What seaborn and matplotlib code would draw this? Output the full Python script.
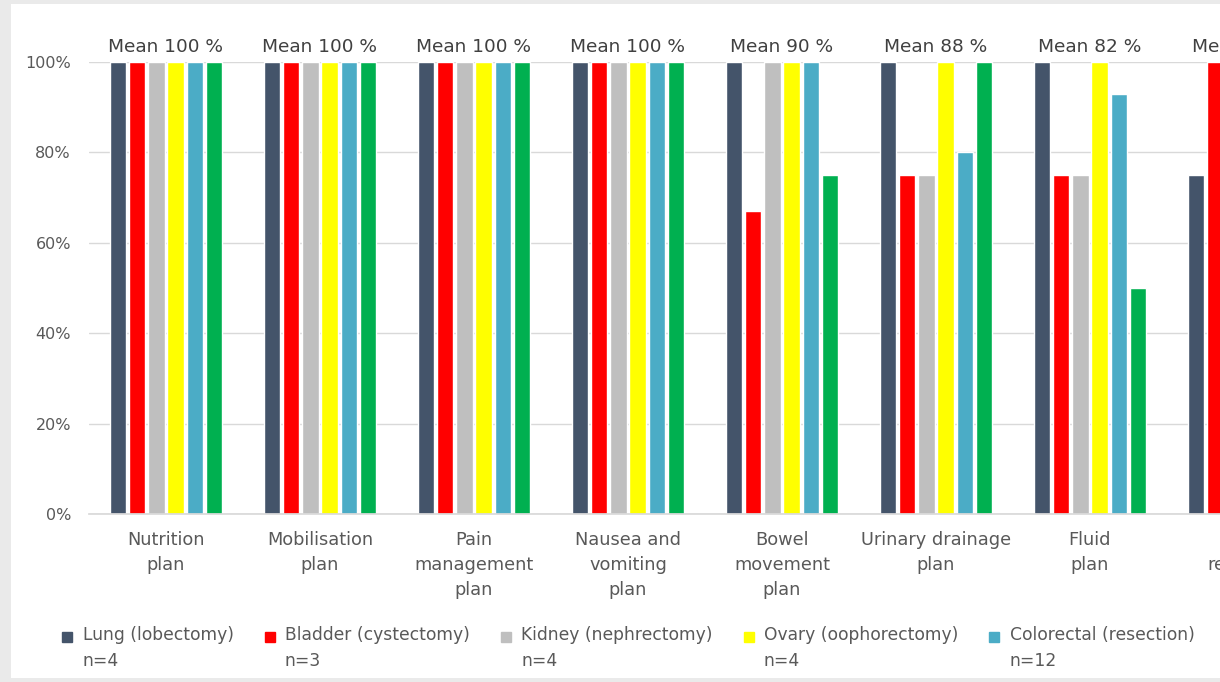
import pandas as pd
import matplotlib.pyplot as plt
import seaborn as sns
from matplotlib.lines import Line2D
from matplotlib.patches import Rectangle
from matplotlib.ticker import PercentFormatter

# Dados (percentual de adesão por plano e tipo de cirurgia)
categories = ["Nutrition\nplan", "Mobilisation\nplan", "Pain\nmanagement\nplan",
              "Nausea and\nvomiting\nplan", "Bowel\nmovement\nplan",
              "Urinary drainage\nplan", "Fluid\nplan", "Drain\nremoval\nplan"]
surgeries = ["Lung (lobectomy)\nn=4", "Bladder (cystectomy)\nn=3",
             "Kidney (nephrectomy)\nn=4", "Ovary (oophorectomy)\nn=4",
             "Colorectal (resection)\nn=12", "Gastric (gastrectomy)\nn=4"]
lung = [100, 100, 100, 100, 100, 100, 100, 75]
bladder = [100, 100, 100, 100, 67, 75, 75, 100]
kidney = [100, 100, 100, 100, 100, 75, 75, 100]
ovary = [100, 100, 100, 100, 100, 100, 100, 100]
colorectal = [100, 100, 100, 100, 100, 80, 93, 100]
gastric = [100, 100, 100, 100, 75, 100, 50, 100]
colors = ["#44546A", "#FF0000", "#BFBFBF", "#FFFF00", "#4BACC6", "#00B050"]

series = [lung, bladder, kidney, ovary, colorectal, gastric]
rows = []
for name, vals in zip(surgeries, series):
    for cat, v in zip(categories, vals):
        rows.append({"category": cat, "surgery": name, "value": v / 100})
df = pd.DataFrame(rows)

sns.set_theme(style="white")
plt.rcParams["font.family"] = ["DejaVu Sans"]

W, H = 1220, 682
fig = plt.figure(figsize=(W / 100, H / 100), dpi=100)
fig.patch.set_facecolor("#EAEAEA")
fig.add_artist(Rectangle((11 / W, 4 / H), 1.0, 674 / H, transform=fig.transFigure,
                         facecolor="white", edgecolor="none", zorder=0))

ax = fig.add_axes([89 / W, 1 - 514 / H, 8 * 154 / W, (514 - 62) / H])
ax.set_facecolor("white")
sns.barplot(data=df, x="category", y="value", hue="surgery", order=categories,
            hue_order=surgeries, palette=colors, saturation=1, width=0.75, gap=0.15,
            legend=False, ax=ax)

ax.set_ylim(0, 1)
ax.set_xlim(-0.5, len(categories) - 0.5)
ax.set_yticks([0, 0.2, 0.4, 0.6, 0.8, 1.0])
ax.yaxis.set_major_formatter(PercentFormatter(1.0, decimals=0))
ax.yaxis.grid(True, color="#D9D9D9", lw=1)
ax.set_axisbelow(True)
for s in ["top", "right", "left"]:
    ax.spines[s].set_visible(False)
ax.spines["bottom"].set_color("#D9D9D9")
ax.set_xlabel("")
ax.set_ylabel("")
ax.tick_params(axis="y", length=0, pad=13, labelsize=11.5, labelcolor="#595959")
ax.tick_params(axis="x", length=0, pad=12, labelsize=12.8, labelcolor="#595959")
for t in ax.get_xticklabels():
    t.set_linespacing(1.5)

# Rótulos de média acima de cada grupo
for i in range(len(categories)):
    mean = sum(s[i] for s in series) / len(series)
    ax.annotate(f"Mean {mean:.0f} %", (i, 1.0), xytext=(0, 4), textcoords="offset points",
                ha="center", va="bottom", fontsize=13.3, color="#404040",
                annotation_clip=False)

handles = [Line2D([], [], marker="s", linestyle="", markersize=7, color=c) for c in colors]
leg = fig.legend(handles, surgeries, loc="center left", bbox_to_anchor=(52 / W, 1 - 648 / H),
                 ncol=6, frameon=False, fontsize=12.3, handlelength=0.8, handletextpad=0.5,
                 columnspacing=1.7, borderpad=0, labelcolor="#595959")
for t in leg.get_texts():
    t.set_linespacing(1.5)
for h in leg.legend_handles:
    h.set_ydata([y + 8.6 for y in h.get_ydata()])

fig.savefig("out.png", dpi=100)
plt.close()
